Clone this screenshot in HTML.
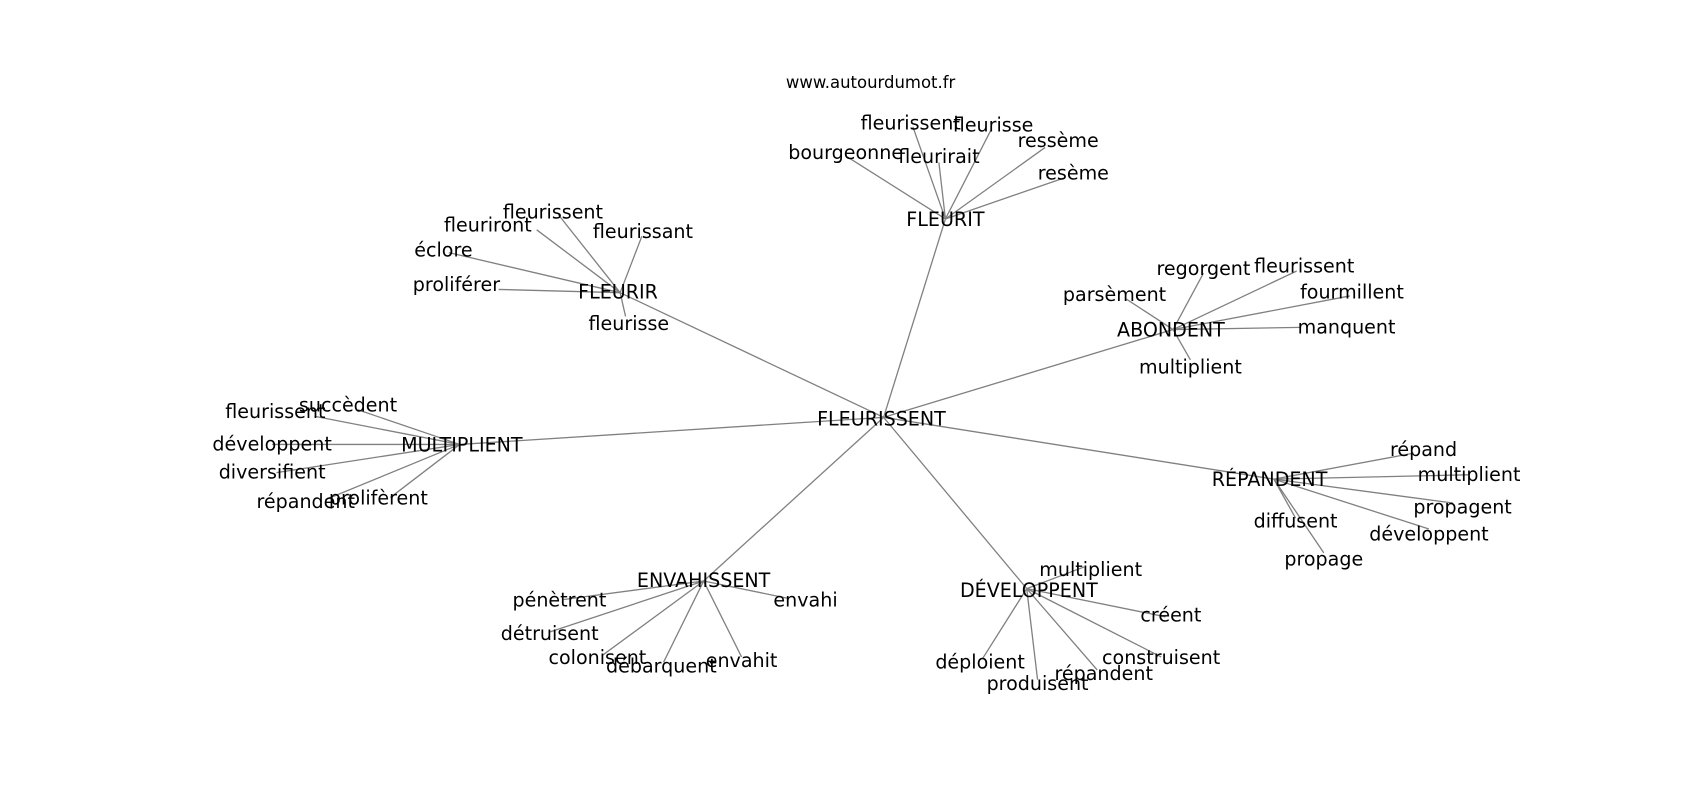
<!DOCTYPE html>
<html><head><meta charset="utf-8"><style>
html,body{margin:0;padding:0;background:#fff;}
svg{display:block;}
text{font-family:"DejaVu Sans","Liberation Sans",sans-serif;font-size:17.6px;fill:#000;text-anchor:middle;dominant-baseline:central;}
line{stroke:#808080;stroke-width:1.2;}
</style></head><body>
<svg width="1700" height="800" viewBox="0 0 1568 738" preserveAspectRatio="none" xmlns="http://www.w3.org/2000/svg">
<g>
<line x1="815" y1="385" x2="872" y2="202"/>
<line x1="815" y1="385" x2="572" y2="270"/>
<line x1="815" y1="385" x2="1082" y2="304"/>
<line x1="815" y1="385" x2="424" y2="410"/>
<line x1="815" y1="385" x2="1175" y2="442"/>
<line x1="815" y1="385" x2="649" y2="536"/>
<line x1="815" y1="385" x2="947" y2="543"/>
<line x1="872" y1="202" x2="842" y2="117"/>
<line x1="872" y1="202" x2="914" y2="120"/>
<line x1="872" y1="202" x2="782" y2="145"/>
<line x1="872" y1="202" x2="866" y2="150"/>
<line x1="872" y1="202" x2="964" y2="136"/>
<line x1="872" y1="202" x2="982" y2="164"/>
<line x1="572" y1="270" x2="515" y2="198"/>
<line x1="572" y1="270" x2="495" y2="212"/>
<line x1="572" y1="270" x2="592" y2="218"/>
<line x1="572" y1="270" x2="414" y2="233"/>
<line x1="572" y1="270" x2="460" y2="267"/>
<line x1="572" y1="270" x2="577" y2="292"/>
<line x1="1082" y1="304" x2="1110" y2="252"/>
<line x1="1082" y1="304" x2="1196" y2="250"/>
<line x1="1082" y1="304" x2="1039" y2="276"/>
<line x1="1082" y1="304" x2="1245" y2="273"/>
<line x1="1082" y1="304" x2="1200" y2="302"/>
<line x1="1082" y1="304" x2="1098" y2="332"/>
<line x1="424" y1="410" x2="290" y2="384"/>
<line x1="424" y1="410" x2="330" y2="378"/>
<line x1="424" y1="410" x2="251" y2="410"/>
<line x1="424" y1="410" x2="255" y2="436"/>
<line x1="424" y1="410" x2="300" y2="461"/>
<line x1="424" y1="410" x2="360" y2="459"/>
<line x1="1175" y1="442" x2="1304" y2="418"/>
<line x1="1175" y1="442" x2="1354" y2="438"/>
<line x1="1175" y1="442" x2="1340" y2="464"/>
<line x1="1175" y1="442" x2="1195" y2="478"/>
<line x1="1175" y1="442" x2="1318" y2="488"/>
<line x1="1175" y1="442" x2="1221" y2="510"/>
<line x1="649" y1="536" x2="520" y2="553"/>
<line x1="649" y1="536" x2="727" y2="552"/>
<line x1="649" y1="536" x2="507" y2="583"/>
<line x1="649" y1="536" x2="555" y2="605"/>
<line x1="649" y1="536" x2="612" y2="611"/>
<line x1="649" y1="536" x2="684" y2="606"/>
<line x1="947" y1="543" x2="1000" y2="523"/>
<line x1="947" y1="543" x2="1075" y2="569"/>
<line x1="947" y1="543" x2="1071" y2="606"/>
<line x1="947" y1="543" x2="906" y2="608"/>
<line x1="947" y1="543" x2="1012" y2="618"/>
<line x1="947" y1="543" x2="957" y2="627"/>
</g>
<text x="803" y="76" style="font-size:15.2px">www.autourdumot.fr</text>
<text x="813" y="387">FLEURISSENT</text>
<text x="872" y="203">FLEURIT</text>
<text x="570" y="270">FLEURIR</text>
<text x="1080" y="305">ABONDENT</text>
<text x="426" y="411">MULTIPLIENT</text>
<text x="1171" y="443">RÉPANDENT</text>
<text x="649" y="536">ENVAHISSENT</text>
<text x="949" y="545">DÉVELOPPENT</text>

<text x="840" y="114">fleurissent</text>
<text x="916" y="116">fleurisse</text>
<text x="780" y="141">bourgeonne</text>
<text x="866" y="145">fleurirait</text>
<text x="976" y="130">ressème</text>
<text x="990" y="160">resème</text>

<text x="510" y="196">fleurissent</text>
<text x="450" y="208">fleuriront</text>
<text x="593" y="214">fleurissant</text>
<text x="409" y="231">éclore</text>
<text x="421" y="263">proliférer</text>
<text x="580" y="299">fleurisse</text>

<text x="1110" y="248">regorgent</text>
<text x="1203" y="246">fleurissent</text>
<text x="1028" y="272">parsèment</text>
<text x="1247" y="270">fourmillent</text>
<text x="1242" y="302">manquent</text>
<text x="1098" y="339">multiplient</text>

<text x="254" y="380">fleurissent</text>
<text x="321" y="374">succèdent</text>
<text x="251" y="410">développent</text>
<text x="251" y="436">diversifient</text>
<text x="282" y="463">répandent</text>
<text x="349" y="460">prolifèrent</text>

<text x="1313" y="415">répand</text>
<text x="1355" y="438">multiplient</text>
<text x="1349" y="468">propagent</text>
<text x="1195" y="481">diffusent</text>
<text x="1318" y="493">développent</text>
<text x="1221" y="516">propage</text>

<text x="516" y="554">pénètrent</text>
<text x="743" y="554">envahi</text>
<text x="507" y="585">détruisent</text>
<text x="551" y="607">colonisent</text>
<text x="610" y="615">débarquent</text>
<text x="684" y="610">envahit</text>

<text x="1006" y="526">multiplient</text>
<text x="1080" y="568">créent</text>
<text x="1071" y="607">construisent</text>
<text x="904" y="611">déploient</text>
<text x="1018" y="622">répandent</text>
<text x="957" y="631">produisent</text>
</svg>
</body></html>
